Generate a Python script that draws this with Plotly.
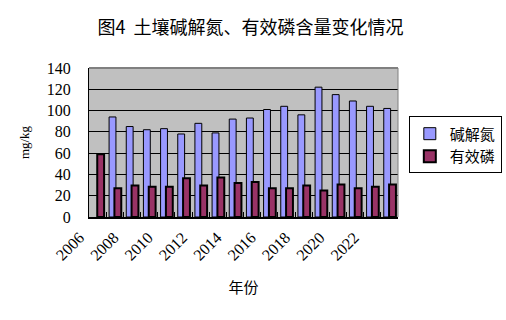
import plotly.graph_objects as go

years = [str(y) for y in range(2006, 2024)]
alk_n = [None, 94, 85, 82, 83, 78, 88, 79, 92, 93, 101, 104, 96, 122, 115, 109, 104, 102]
avail_p = [59, 27, 29.5, 28.5, 28.5, 36.5, 29.5, 37, 32, 33, 27, 27, 29.5, 25, 30.5, 27, 28.5, 30.5]
tick_text = [y if int(y) % 2 == 0 and int(y) <= 2022 else "" for y in years]

serif = "Liberation Serif, Noto Sans CJK SC, serif"
cjk = "Noto Sans CJK SC, sans-serif"

fig = go.Figure()
fig.add_trace(go.Bar(
    x=years, y=alk_n, name="碱解氮",
    marker=dict(color="#9999FF", line=dict(color="black", width=1)),
    width=0.40, offset=-0.33,
))
fig.add_trace(go.Bar(
    x=years, y=avail_p, name="有效磷",
    marker=dict(color="#993366", line=dict(color="black", width=2)),
    width=0.40, offset=-0.02,
))

fig.update_layout(
    width=506, height=320,
    margin=dict(l=89, r=108, t=68, b=103, autoexpand=False),
    paper_bgcolor="white", plot_bgcolor="#C0C0C0",
    showlegend=True,
    title=dict(text="图4  土壤碱解氮、有效磷含量变化情况", x=0.495, xanchor="center",
               y=0.915, yanchor="middle",
               font=dict(family=cjk, size=18, color="black")),
    legend=dict(x=1.035, y=0.675, xanchor="left", yanchor="top",
                font=dict(family=cjk, size=15, color="black"),
                bordercolor="black", borderwidth=1, bgcolor="white",
                tracegroupgap=0, itemwidth=30),
)

fig.update_xaxes(
    type="category", tickvals=years, ticktext=tick_text,
    tickangle=-45, tickson="boundaries", ticks="inside", ticklen=5,
    tickcolor="black", showline=True, linecolor="black", linewidth=2,
    tickfont=dict(family=serif, size=16, color="black"),
    ticklabelstandoff=3, ticklabelshift=-18,
    title=dict(text="年份", font=dict(family=cjk, size=15, color="black"), standoff=20),
    showgrid=False,
)
fig.update_yaxes(
    range=[0, 140], dtick=20, tickvals=list(range(0, 141, 20)),
    showgrid=True, gridcolor="black", gridwidth=1,
    showline=True, linecolor="black", linewidth=1,
    tickfont=dict(family=serif, size=16, color="black"),
    ticks="", ticklabelstandoff=14,
    title=dict(text="mg/kg", font=dict(family=serif, size=13, color="black"), standoff=14),
    zeroline=False,
)
fig.add_shape(type="line", xref="paper", yref="paper", x0=0, x1=1, y0=1, y1=1,
              line=dict(color="#808080", width=2))
fig.add_shape(type="line", xref="paper", yref="paper", x0=1, x1=1, y0=0, y1=1,
              line=dict(color="#808080", width=1))

fig.write_html("out.html")
